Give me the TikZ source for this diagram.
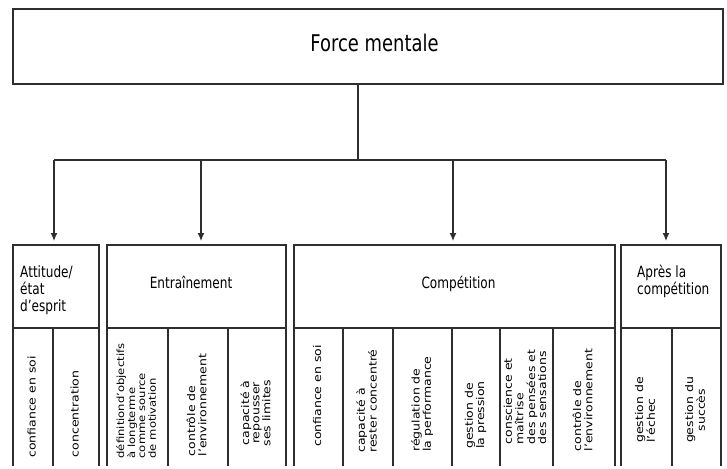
\documentclass[tikz,border=0pt]{standalone}
\usepackage{fontspec}
\usepackage{graphicx}
\setmainfont{DejaVu Sans}
\usetikzlibrary{arrows.meta}
\newcommand\hsq[1]{\scalebox{0.78}[1]{#1}}
\newcommand\vsq[2]{\scalebox{1}[0.85]{\begin{tabular}{@{}#1@{}}#2\end{tabular}}}
\begin{document}
\begin{tikzpicture}[x=1pt,y=-1pt,
  ln/.style={draw=black!82, line width=1.5pt},
  box/.style={ln, inner sep=0pt, outer sep=0pt},
  arr/.style={ln, line width=1.3pt, -{Latex[length=8pt,width=7pt]}, shorten >=4pt},
  hd/.style={font=\fontsize{15.5}{17}\selectfont, inner sep=0pt, anchor=base},
  hdl/.style={hd, anchor=base west},
  big/.style={font=\fontsize{23}{27}\selectfont, inner sep=0pt, anchor=base},
  col/.style={font=\fontsize{12.5}{12}\selectfont, inner sep=0pt, rotate=90},
  colsm/.style={font=\fontsize{11.6}{12}\selectfont, inner sep=0pt, rotate=90},
]
\useasboundingbox (0,0) rectangle (727,468);
\fill[white] (0,0) rectangle (727,468);

% top box
\node[box, minimum width=710, minimum height=75] (fm) at (368,46.5) {};
\node[big] (fmt) at (374.5,52) {\hsq{Force mentale}};

% header boxes
\node[box, minimum width=86, minimum height=83] (b1) at (56,286.5) {};
\node[box, minimum width=179, minimum height=83] (b2) at (196.5,286.5) {};
\node[box, minimum width=321, minimum height=83] (b3) at (454.5,286.5) {};
\node[box, minimum width=100, minimum height=83] (b4) at (671,286.5) {};

\node[hdl] (t1) at (20,277) {\hsq{\begin{tabular}[t]{@{}l@{}}Attitude/\\état\\d'esprit\end{tabular}}};
\node[hd] (t2) at (191,288) {\hsq{Entraînement}};
\node[hd] (t3) at (458.5,288) {\hsq{Compétition}};
\node[hdl] (t4) at (637,277) {\hsq{\begin{tabular}[t]{@{}l@{}}Après la\\compétition\end{tabular}}};

% column outlines (open bottom)
\draw[ln] (b1.south west) -- (13,466);
\draw[ln] (b1.south east) -- (99,466);
\draw[ln] (b2.south west) -- (107,466);
\draw[ln] (b2.south east) -- (286,466);
\draw[ln] (b3.south west) -- (294,466);
\draw[ln] (b3.south east) -- (615,466);
\draw[ln] (b4.south west) -- (621,466);
\draw[ln] (b4.south east) -- (721,466);
\foreach \x in {53,168,228,343,393,452,500,553,672}
  \draw[ln] (\x,328) -- (\x,466);

% column texts
\node[col] (c11) at (33,407) {\vsq{l}{confiance en soi}};
\node[col] (c12) at (76,414) {\vsq{l}{concentration}};
\node[colsm] (c21) at (137.5,401) {\vsq{l}{définitiond'objectifs\\à longterme\\comme source\\de motivation}};
\node[col] (c22) at (198,405) {\vsq{l}{contrôle de\\l'environnement}};
\node[col] (c23) at (257,413) {\vsq{c}{capacité à\\repousser\\ses limites}};
\node[col] (c31) at (318.5,396) {\vsq{l}{confiance en soi}};
\node[col] (c32) at (368,401) {\vsq{l}{capacité à\\rester concentré}};
\node[col] (c33) at (422.5,404) {\vsq{l}{régulation de\\la performance}};
\node[col] (c34) at (476,415) {\vsq{l}{gestion de\\la pression}};
\node[col] (c35) at (526.5,397) {\vsq{l}{conscience et\\maîtrise\\des pensées et\\des sensations}};
\node[col] (c36) at (584,400) {\vsq{l}{contrôle de\\l'environnement}};
\node[col] (c41) at (646.5,410) {\vsq{l}{gestion de\\l'échec}};
\node[col] (c42) at (696.5,410) {\vsq{c}{gestion du\\succès}};

% connectors
\coordinate (bus) at (358,160);
\coordinate (a1) at (54,160);
\coordinate (a2) at (201,160);
\coordinate (a3) at (453,160);
\coordinate (a4) at (666,160);
\draw[ln] (fm.south -| bus) -- (bus);
\draw[ln] (a1) -- (a4);
\draw[arr] (a1) -- (a1 |- b1.north);
\draw[arr] (a2) -- (a2 |- b2.north);
\draw[arr] (a3) -- (a3 |- b3.north);
\draw[arr] (a4) -- (a4 |- b4.north);
\end{tikzpicture}
\end{document}
